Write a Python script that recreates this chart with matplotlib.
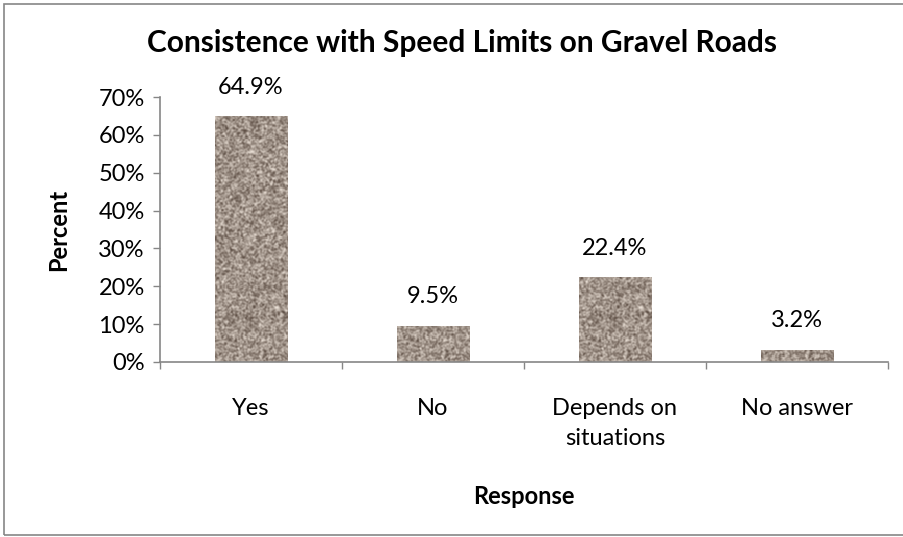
import numpy as np
import matplotlib.pyplot as plt
from matplotlib.patches import Rectangle

# Data
categories = ["Yes", "No", "Depends on\nsituations", "No answer"]
percent = [64.9, 9.5, 22.4, 3.2]
yticks = [0, 10, 20, 30, 40, 50, 60, 70]

plt.rcParams['font.family'] = ['Lato', 'DejaVu Sans']
fs = 17

fig = plt.figure(figsize=(9.04, 5.37), dpi=100)
ax = fig.add_axes([160 / 904, 1 - 362 / 537, 728 / 904, 265 / 537])

x = np.arange(len(categories))
bars = ax.bar(x, percent, width=0.4, color='#a09287', zorder=2)

# gravel-like texture inside the bars
rng = np.random.default_rng(3)
H, W = 260, 70
noise = rng.random((H, W))
k = np.array([[1, 2, 1], [2, 4, 2], [1, 2, 1]]) / 16
pad = np.pad(noise, 1, mode='wrap')
smooth = sum(k[i, j] * pad[i:i + H, j:j + W] for i in range(3) for j in range(3))
smooth = (smooth - smooth.min()) / (smooth.max() - smooth.min())
dark = np.array([95, 80, 70]) / 255
light = np.array([232, 222, 212]) / 255
tex = dark + (light - dark) * smooth[..., None]
for b in bars:
    b.set_facecolor('none')
    b.set_edgecolor('none')
    x0 = b.get_x()
    im = ax.imshow(tex, extent=[x0, x0 + b.get_width(), 0, 70],
                   aspect='auto', interpolation='nearest', zorder=2)
    im.set_clip_path(b)

for xi, v in zip(x, percent):
    ax.annotate(f"{v}%", (xi, v), xytext=(0, 21), textcoords='offset points',
                ha='center', va='center', fontsize=fs)

ax.set_xlim(-0.5, len(categories) - 0.5)
ax.set_ylim(0, 70)
ax.set_yticks(yticks)
ax.set_yticklabels([f"{t}%" for t in yticks], fontsize=fs)
ax.set_xticks(x)
ax.set_xticklabels(categories, fontsize=fs, linespacing=1.5, va='top')
ax.set_xticks(np.arange(len(categories) + 1) - 0.5, minor=True)
ax.tick_params(axis='x', which='major', length=0, pad=26)
ax.tick_params(axis='x', which='minor', length=5, color='#868686', width=1)
ax.tick_params(axis='y', length=5, color='#868686', width=1, pad=6)

for s in ['top', 'right']:
    ax.spines[s].set_visible(False)
for s in ['left', 'bottom']:
    ax.spines[s].set_color('#868686')
    ax.spines[s].set_linewidth(1.2)

ax.set_ylabel("Percent", fontsize=fs, fontweight='bold', labelpad=20)
ax.set_xlabel("Response", fontsize=fs, fontweight='bold', labelpad=26)
fig.text(462 / 904, 1 - 43 / 537, "Consistence with Speed Limits on Gravel Roads",
         ha='center', va='center', fontsize=21.5, fontweight='bold')

# chart border
fig.patches.append(Rectangle((4 / 904, 2 / 537), 1.0, 1 - 6 / 537,
                             transform=fig.transFigure, fill=False,
                             edgecolor='#868686', linewidth=1.2))

fig.savefig("out.png", dpi=100)
